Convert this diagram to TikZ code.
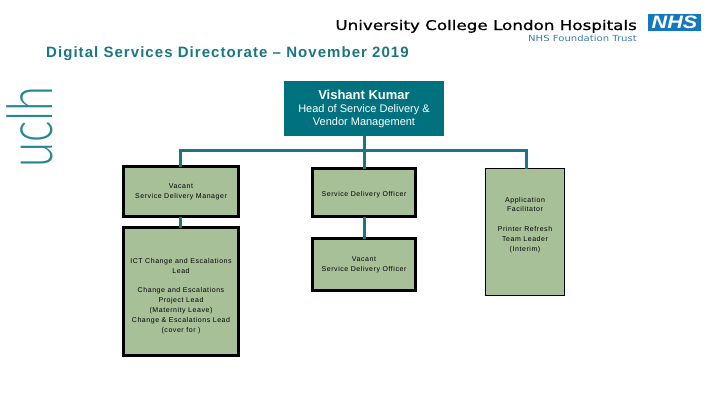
\documentclass[tikz,border=0pt]{standalone}
\usepackage{graphicx}
\usepackage{fontspec}
\setmainfont{Liberation Sans}
\newfontfamily\spaced[LetterSpace=8]{Liberation Sans}
\newfontfamily\titlefont[LetterSpace=7]{Liberation Sans}
\newfontfamily\logofont[FakeBold=0.8]{DejaVu Sans}
\newfontfamily\trustfont{DejaVu Sans}
\newfontfamily\thinfont{Lato Light}
\definecolor{teal1}{HTML}{00727F}
\definecolor{tealline}{HTML}{1A7680}
\definecolor{sage}{HTML}{A8C098}
\definecolor{nhsblue}{HTML}{1478BE}
\tikzset{
 x=1pt,y=-1pt,
 boxa/.style={draw=black,line width=3pt,fill=sage,outer sep=0pt,anchor=north west,inner sep=0pt,align=center,font=\spaced\fontsize{7}{9.9}\selectfont},
 boxb/.style={boxa,line width=1pt},
 link/.style={draw=tealline,line width=3pt},
}
\begin{document}
\begin{tikzpicture}
\useasboundingbox (0,0) rectangle (720,405);
% header
\node[anchor=base east,inner sep=0,font=\logofont\fontsize{13.4}{16}\selectfont] (hosp) at (637,30) {\scalebox{1.25}[1]{University College London Hospitals}};
\node[anchor=base east,inner sep=0,text=nhsblue!65!gray,font=\trustfont\fontsize{8.4}{10}\selectfont] (trust) at (637,41) {\scalebox{1.2}[1]{NHS Foundation Trust}};
\node[fill=nhsblue,text=white,anchor=north west,outer sep=0,minimum width=53pt,minimum height=17pt,inner sep=0,font=\bfseries\itshape\fontsize{18}{18}\selectfont] (nhs) at (648,14) {\scalebox{1.2}[1]{NHS}};
\node[anchor=base west,inner sep=0,text=tealline,font=\titlefont\bfseries\fontsize{15}{16}\selectfont] (title) at (46,57.5) {Digital Services Directorate – November 2019};
\node[rotate=90,anchor=base west,inner sep=0,text=teal1!85,font=\thinfont\fontsize{63}{63}\selectfont] (uclh) at (52,168) {\scalebox{0.72}[1]{uclh}};
% boxes
\node[fill=teal1,text=white,anchor=north west,outer sep=0,minimum width=160pt,minimum height=55pt,inner sep=0,align=center] (head) at (284,81) {{\bfseries\fontsize{13}{13}\selectfont Vishant Kumar}\\[1pt]{\fontsize{11}{13}\selectfont Head of Service Delivery \&}\\[1pt]{\fontsize{11}{13}\selectfont Vendor Management}\\[-11pt]\mbox{}};
\node[boxa,minimum width=115pt,minimum height=50pt] (sdm) at (123.5,166.5) {Vacant\\Service Delivery Manager};
\node[boxa,minimum width=115pt,minimum height=128pt] (ict) at (123.5,227.5) {\mbox{}\\[4pt]ICT Change and Escalations\\Lead\\[9.5pt]Change and Escalations\\Project Lead\\(Maternity Leave)\\Change \& Escalations Lead\\(cover for )};
\node[boxa,minimum width=103pt,minimum height=48pt] (sdo) at (312.5,168.5) {\raisebox{-1pt}[5pt][0pt]{Service Delivery Officer}};
\node[boxa,minimum width=103pt,minimum height=52pt] (vsdo) at (312.5,238.5) {Vacant\\Service Delivery Officer};
\node[boxb,minimum width=79pt,minimum height=127pt] (app) at (485.5,168.5) {Application\\Facilitator\\[9.5pt]Printer Refresh\\Team Leader\\(Interim)\\[6pt]};
% connectors
\coordinate (busl) at (180,150);
\coordinate (busr) at (526,150);
\coordinate (busm) at (364,150);
\draw[link] (sdm.north -| busl) -- (busl) -- (busr) -- (app.north -| busr);
\draw[link] (head.south -| busm) -- (busm) -- (sdo.north -| busm);
\draw[link] (sdm.south -| busl) -- (ict.north -| busl);
\draw[link] (sdo.south -| busm) -- (vsdo.north -| busm);
\end{tikzpicture}
\end{document}
